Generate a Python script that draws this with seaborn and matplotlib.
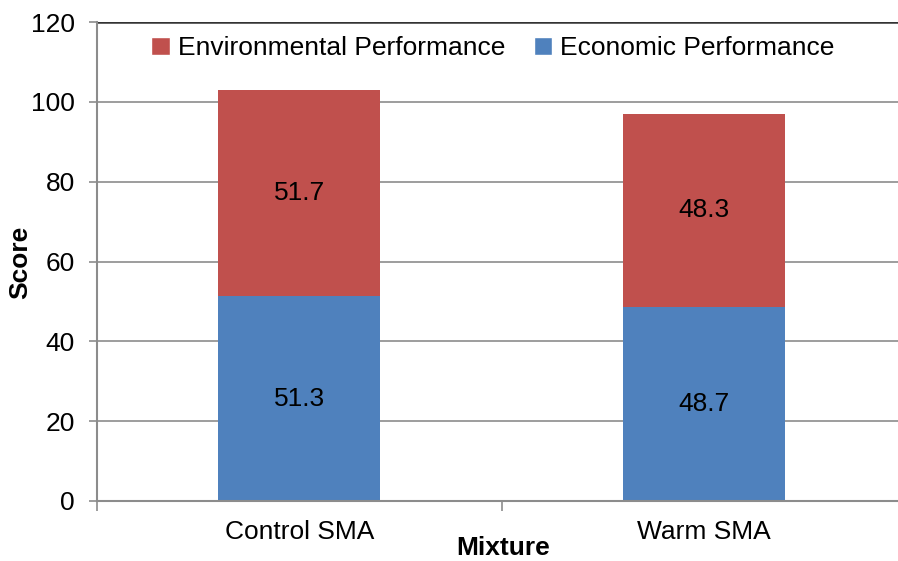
import matplotlib
matplotlib.use("Agg")
import matplotlib.pyplot as plt
from matplotlib.patches import Patch
import seaborn as sns
import pandas as pd

mixtures = ["Control SMA", "Warm SMA"]
economic = [51.3, 48.7]
environmental = [51.7, 48.3]
y_ticks = [0, 20, 40, 60, 80, 100, 120]

ECON_COLOR = "#4F81BD"
ENV_COLOR = "#C0504D"
GRID_COLOR = "#8c8c8c"
FS = 19

sns.set_theme(style="white")
plt.rcParams["font.family"] = ["Liberation Sans", "DejaVu Sans"]
plt.rcParams["text.color"] = "black"
plt.rcParams["xtick.color"] = "black"
plt.rcParams["ytick.color"] = "black"

df = pd.DataFrame({
    "Mixture": mixtures,
    "Economic": economic,
    "Environmental": environmental,
})
df["Total"] = df["Economic"] + df["Environmental"]

fig = plt.figure(figsize=(8.98, 5.61), dpi=100)
ax = fig.add_axes([97 / 898, 1 - 501 / 561, 809 / 898, (501 - 22) / 561])

# stacked bars: total height in red, economic share drawn over it in blue
sns.barplot(data=df, x="Mixture", y="Total", color=ENV_COLOR, width=0.4,
            saturation=1, ax=ax, zorder=3, linewidth=0)
sns.barplot(data=df, x="Mixture", y="Economic", color=ECON_COLOR, width=0.4,
            saturation=1, ax=ax, zorder=4, linewidth=0)

for i, (e, v) in enumerate(zip(economic, environmental)):
    ax.text(i, e / 2, f"{e:.1f}", ha="center", va="center", fontsize=FS,
            color="black", zorder=5)
    ax.text(i, e + v / 2, f"{v:.1f}", ha="center", va="center", fontsize=FS,
            color="black", zorder=5)

ax.set_xlim(-0.5, 1.5)
ax.set_ylim(0, 120)
ax.set_yticks(y_ticks)
ax.set_yticklabels([str(t) for t in y_ticks], fontsize=FS)
for t in y_ticks[1:-1]:
    ax.axhline(t, color=GRID_COLOR, linewidth=1.2, zorder=1)
ax.axhline(120, color="#333333", linewidth=1.8, zorder=1)

ax.set_xticks([0, 1])
ax.set_xticklabels(mixtures, fontsize=FS)
ax.set_xticks([-0.5, 0.5, 1.5], minor=True)
ax.tick_params(axis="x", which="major", length=0, pad=14, labelcolor="black")
ax.tick_params(axis="x", which="minor", length=7, width=1.2, color=GRID_COLOR,
               direction="out", bottom=True)
ax.tick_params(axis="y", which="major", length=6, width=1.2, color=GRID_COLOR,
               direction="out", left=True, pad=10, labelcolor="black")

for side in ["top", "right"]:
    ax.spines[side].set_visible(False)
for side in ["left", "bottom"]:
    ax.spines[side].set_color(GRID_COLOR)
    ax.spines[side].set_linewidth(1.5)
    ax.spines[side].set_zorder(6)

ax.set_ylabel("Score", fontsize=FS, fontweight="bold", color="black")
ax.yaxis.label.set_va("center")
ax.yaxis.set_label_coords((20 - 97) / 809, (501 - 262) / 479)
ax.set_xlabel("Mixture", fontsize=FS, fontweight="bold", color="black")
ax.xaxis.label.set_va("center")
ax.xaxis.set_label_coords((503 - 97) / 809, -(548 - 501) / 479)

handles = [Patch(facecolor=ENV_COLOR, label="Environmental Performance"),
           Patch(facecolor=ECON_COLOR, label="Economic Performance")]
ax.legend(handles=handles, ncol=2, loc="center", frameon=False, fontsize=FS,
          bbox_to_anchor=((493 - 97) / 809, 1 - (48 - 22) / 479),
          handlelength=0.7, handleheight=0.7, handletextpad=0.3,
          columnspacing=1.1, labelcolor="black")

fig.savefig("out.png", dpi=100)
